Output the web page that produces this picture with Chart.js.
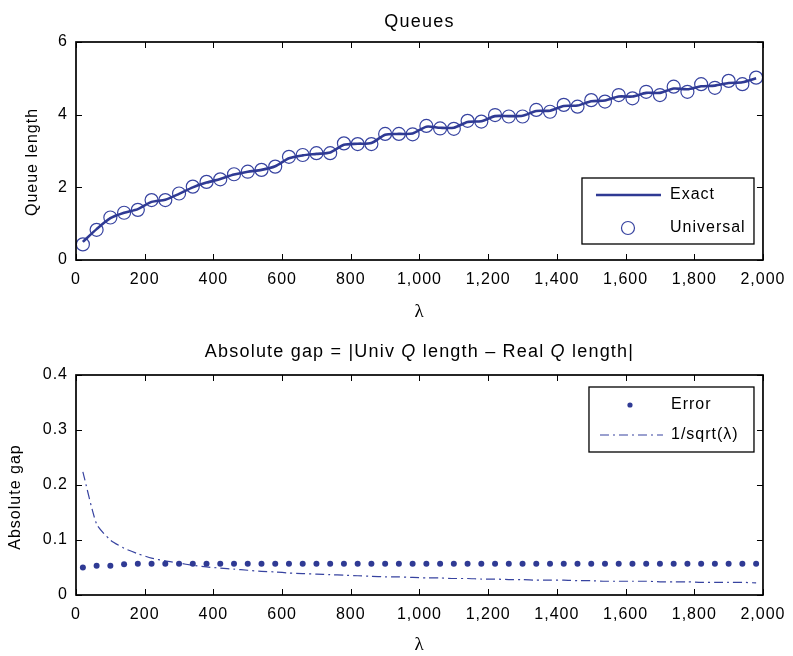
<!DOCTYPE html>
<html>
<head>
<meta charset="utf-8">
<script src="https://cdn.jsdelivr.net/npm/chart.js@4.4.0/dist/chart.umd.min.js"></script>
<style>
  html, body { margin: 0; padding: 0; background: #fff; }
  #wrap { position: relative; width: 793px; height: 656px; }
  .box { position: absolute; left: 0; width: 793px; }
  #topBox { top: 0; height: 330px; }
  #botBox { top: 330px; height: 326px; }
</style>
</head>
<body>
<div id="wrap">
  <div class="box" id="topBox"><canvas id="queueChart"></canvas></div>
  <div class="box" id="botBox"><canvas id="gapChart"></canvas></div>
</div>
<script>
// lambda values (x) shared by both plots
const lambdas = [20, 60, 100, 140, 180, 220, 260, 300, 340, 380,
  420, 460, 500, 540, 580, 620, 660, 700, 740, 780,
  820, 860, 900, 940, 980, 1020, 1060, 1100, 1140, 1180,
  1220, 1260, 1300, 1340, 1380, 1420, 1460, 1500, 1540, 1580,
  1620, 1660, 1700, 1740, 1780, 1820, 1860, 1900, 1940, 1980];

// top plot: queue length
const exactLength = [0.50, 0.85, 1.15, 1.30, 1.40, 1.60, 1.66, 1.82, 2.00, 2.13,
  2.23, 2.35, 2.43, 2.48, 2.58, 2.80, 2.88, 2.92, 2.96, 3.17,
  3.20, 3.22, 3.45, 3.47, 3.48, 3.67, 3.64, 3.64, 3.80, 3.82,
  3.96, 3.96, 3.97, 4.10, 4.11, 4.24, 4.25, 4.37, 4.39, 4.50,
  4.50, 4.60, 4.60, 4.72, 4.70, 4.78, 4.80, 4.87, 4.89, 5.00];
const universalLength = [0.43, 0.83, 1.17, 1.30, 1.38, 1.65, 1.65, 1.83, 2.02, 2.15,
  2.22, 2.36, 2.43, 2.48, 2.57, 2.84, 2.89, 2.94, 2.94, 3.21,
  3.19, 3.19, 3.47, 3.47, 3.46, 3.69, 3.62, 3.61, 3.83, 3.81,
  3.99, 3.95, 3.95, 4.13, 4.08, 4.27, 4.22, 4.40, 4.36, 4.54,
  4.45, 4.63, 4.54, 4.77, 4.63, 4.84, 4.74, 4.93, 4.84, 5.02];

// bottom plot: absolute gap
const gapError = [0.050, 0.053, 0.053, 0.056, 0.057, 0.057, 0.057, 0.057, 0.057, 0.057,
  0.057, 0.057, 0.057, 0.057, 0.057, 0.057, 0.057, 0.057, 0.057, 0.057,
  0.057, 0.057, 0.057, 0.057, 0.057, 0.057, 0.057, 0.057, 0.057, 0.057,
  0.057, 0.057, 0.057, 0.057, 0.057, 0.057, 0.057, 0.057, 0.057, 0.057,
  0.057, 0.057, 0.057, 0.057, 0.057, 0.057, 0.057, 0.057, 0.057, 0.057];
const invSqrt = [0.224, 0.129, 0.100, 0.085, 0.075, 0.067, 0.062, 0.058, 0.054, 0.051,
  0.049, 0.047, 0.045, 0.043, 0.042, 0.040, 0.039, 0.038, 0.037, 0.036,
  0.035, 0.034, 0.033, 0.033, 0.032, 0.031, 0.031, 0.030, 0.030, 0.029,
  0.029, 0.028, 0.028, 0.027, 0.027, 0.027, 0.026, 0.026, 0.025, 0.025,
  0.025, 0.025, 0.024, 0.024, 0.024, 0.023, 0.023, 0.023, 0.023, 0.022];

const blue = '#2f3a94';
const FONT = 'Liberation Sans';

Chart.defaults.font.family = FONT;
Chart.defaults.font.size = 16;
Chart.defaults.color = '#000';

function toPoints(ys) {
  return lambdas.map((x, i) => ({ x, y: ys[i] }));
}

function commas(v) {
  return String(v).replace(/\B(?=(\d{3})+(?!\d))/g, ',');
}

// frame round the plot area, with inward tick marks on all four sides
const frameTicks = {
  id: 'frameTicks',
  beforeDraw(chart) {
    chart.ctx.letterSpacing = '1px';
  },
  afterDatasetsDraw(chart) {
    const { ctx, chartArea: a, scales: { x, y } } = chart;
    ctx.save();
    ctx.strokeStyle = '#000';
    ctx.lineWidth = 1;
    ctx.beginPath();
    x.ticks.forEach(t => {
      const px = Math.round(x.getPixelForValue(t.value)) + 0.5;
      ctx.moveTo(px, a.bottom); ctx.lineTo(px, a.bottom - 6);
      ctx.moveTo(px, a.top); ctx.lineTo(px, a.top + 6);
    });
    y.ticks.forEach(t => {
      const py = Math.round(y.getPixelForValue(t.value)) + 0.5;
      ctx.moveTo(a.left, py); ctx.lineTo(a.left + 6, py);
      ctx.moveTo(a.right, py); ctx.lineTo(a.right - 6, py);
    });
    ctx.stroke();
    ctx.lineWidth = 1.7;
    ctx.strokeRect(a.left, a.top, a.right - a.left, a.bottom - a.top);
    ctx.restore();
  }
};

// title with italic parts + rotated y title
const richTitles = {
  id: 'richTitles',
  afterDraw(chart, args, opts) {
    const { ctx, chartArea: a } = chart;
    ctx.save();
    ctx.fillStyle = '#000';
    ctx.letterSpacing = '1.2px';
    ctx.textBaseline = 'alphabetic';
    ctx.textAlign = 'left';
    const segs = opts.segments;
    let total = 0;
    segs.forEach(s => {
      ctx.font = (s.italic ? 'italic ' : '') + '18px "' + FONT + '"';
      s.w = ctx.measureText(s.text).width;
      total += s.w;
    });
    let x = (a.left + a.right) / 2 - total / 2;
    segs.forEach(s => {
      ctx.font = (s.italic ? 'italic ' : '') + '18px "' + FONT + '"';
      ctx.fillText(s.text, x, opts.baseline);
      x += s.w;
    });

    ctx.letterSpacing = '1px';
    ctx.font = '16px "' + FONT + '"';
    ctx.translate(opts.yTitleX, (a.top + a.bottom) / 2 + opts.yTitleDy);
    ctx.rotate(-Math.PI / 2);
    ctx.textAlign = 'center';
    ctx.textBaseline = 'middle';
    ctx.fillText(opts.yTitle, 0, 0);
    ctx.restore();
  }
};

// boxed legend inside the plot area
const boxLegend = {
  id: 'boxLegend',
  afterDraw(chart, args, o) {
    const { ctx, chartArea: a } = chart;
    const bx = a.right - o.offX - o.width;
    const by = o.corner === 'bottom' ? a.bottom - o.offY - o.height : a.top + o.offY;
    ctx.save();
    ctx.fillStyle = '#fff';
    ctx.fillRect(bx, by, o.width, o.height);
    ctx.strokeStyle = '#000';
    ctx.lineWidth = 1.3;
    ctx.strokeRect(bx, by, o.width, o.height);

    chart.data.datasets.forEach((ds, i) => {
      const ry = by + o.rowY[i];
      if (ds.showLine === false) {
        ctx.beginPath();
        ctx.arc(bx + o.markX, ry, ds.legendRadius, 0, Math.PI * 2);
        if (ds.pointBorderWidth > 0) {
          ctx.lineWidth = ds.pointBorderWidth;
          ctx.strokeStyle = ds.pointBorderColor;
          ctx.stroke();
        } else {
          ctx.fillStyle = ds.pointBackgroundColor;
          ctx.fill();
        }
      } else {
        ctx.beginPath();
        ctx.lineWidth = ds.borderWidth;
        ctx.strokeStyle = ds.borderColor;
        ctx.setLineDash(ds.borderDash || []);
        ctx.moveTo(bx + o.lineFrom, ry);
        ctx.lineTo(bx + o.lineTo, ry);
        ctx.stroke();
        ctx.setLineDash([]);
      }
      ctx.fillStyle = '#000';
      ctx.letterSpacing = '1px';
      ctx.font = '16px "' + FONT + '"';
      ctx.textAlign = 'left';
      ctx.textBaseline = 'middle';
      ctx.fillText(ds.label, bx + o.textX, ry);
    });
    ctx.restore();
  }
};

function xScale(height, titlePad) {
  return {
    type: 'linear', min: 0, max: 2000,
    grid: { display: false, drawTicks: false },
    border: { display: false },
    ticks: { stepSize: 200, padding: 10, maxRotation: 0, autoSkip: false, callback: v => commas(v) },
    title: { display: true, text: 'λ', color: '#000',
      font: { family: 'Liberation Serif', size: 19 }, padding: { top: 0, bottom: titlePad } },
    afterFit: s => { s.height = height; }
  };
}

new Chart(document.getElementById('queueChart'), {
  type: 'line',
  data: {
    datasets: [
      { label: 'Exact', data: toPoints(exactLength), borderColor: blue, borderWidth: 2.6,
        pointRadius: 0, tension: 0.25 },
      { label: 'Universal', data: toPoints(universalLength), showLine: false,
        pointStyle: 'circle', pointRadius: 6.5, pointBorderWidth: 1.2,
        pointBorderColor: '#3743a0', pointBackgroundColor: 'rgba(0,0,0,0)', legendRadius: 6.5 }
    ]
  },
  options: {
    responsive: true, maintainAspectRatio: false, animation: false, devicePixelRatio: 1,
    layout: { padding: { top: 42, right: 23, left: 0, bottom: 0 } },
    plugins: {
      legend: { display: false }, tooltip: { enabled: false },
      richTitles: { segments: [{ text: 'Queues' }], baseline: 27,
        yTitle: 'Queue length', yTitleX: 33, yTitleDy: 11 },
      boxLegend: { corner: 'bottom', offX: 9, offY: 16, width: 172, height: 66,
        rowY: [17, 50], lineFrom: 14, lineTo: 79, markX: 46, textX: 88 }
    },
    scales: {
      x: xScale(70, 7),
      y: {
        min: 0, max: 6,
        grid: { display: false, drawTicks: false },
        border: { display: false },
        ticks: { stepSize: 2, padding: 8 },
        afterFit: s => { s.width = 76; }
      }
    }
  },
  plugins: [frameTicks, richTitles, boxLegend]
});

new Chart(document.getElementById('gapChart'), {
  type: 'line',
  data: {
    datasets: [
      { label: 'Error', data: toPoints(gapError), showLine: false,
        pointStyle: 'circle', pointRadius: 3, pointBorderWidth: 0,
        pointBackgroundColor: blue, pointBorderColor: blue, legendRadius: 2.6 },
      { label: '1/sqrt(λ)', data: toPoints(invSqrt), borderColor: '#3743a0', borderWidth: 1.2,
        borderDash: [9, 4, 2, 4], pointRadius: 0, tension: 0.2 }
    ]
  },
  options: {
    responsive: true, maintainAspectRatio: false, animation: false, devicePixelRatio: 1,
    layout: { padding: { top: 45, right: 23, left: 0, bottom: 0 } },
    plugins: {
      legend: { display: false }, tooltip: { enabled: false },
      richTitles: {
        segments: [
          { text: 'Absolute gap = |Univ ' }, { text: 'Q', italic: true },
          { text: ' length – Real ' }, { text: 'Q', italic: true }, { text: ' length|' }
        ],
        baseline: 27, yTitle: 'Absolute gap', yTitleX: 16, yTitleDy: 12
      },
      boxLegend: { corner: 'top', offX: 9, offY: 12, width: 165, height: 65,
        rowY: [18, 48], lineFrom: 11, lineTo: 74, markX: 41, textX: 82 }
    },
    scales: {
      x: xScale(61, 0),
      y: {
        min: 0, max: 0.4,
        grid: { display: false, drawTicks: false },
        border: { display: false },
        ticks: { stepSize: 0.1, padding: 8, callback: v => v === 0 ? '0' : v.toFixed(1) },
        afterFit: s => { s.width = 76; }
      }
    }
  },
  plugins: [frameTicks, richTitles, boxLegend]
});
</script>
</body>
</html>
